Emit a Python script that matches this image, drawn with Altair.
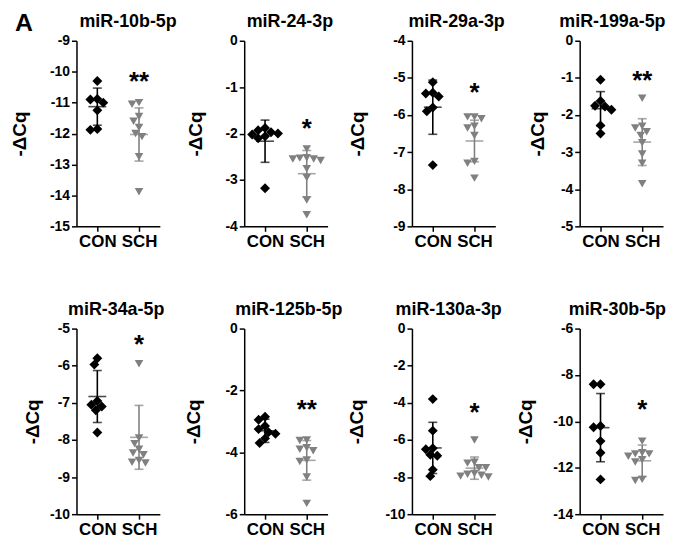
import altair as alt
import pandas as pd

titles = ["miR-10b-5p", "miR-24-3p", "miR-29a-3p", "miR-199a-5p",
          "miR-34a-5p", "miR-125b-5p", "miR-130a-3p", "miR-30b-5p"]
groups = ["CON", "SCH"]

con_vals = [
    [-10.3, -10.88, -10.9, -11.0, -11.25, -11.85, -11.88],
    [-1.88, -1.93, -1.97, -2.0, -2.02, -2.06, -2.1, -3.18],
    [-5.12, -5.4, -5.42, -5.5, -5.8, -5.9, -7.35],
    [-1.05, -1.62, -1.75, -1.77, -1.86, -2.28, -2.5],
    [-5.8, -5.97, -6.95, -7.05, -7.1, -7.2, -7.8],
    [-2.85, -2.95, -3.15, -3.25, -3.35, -3.4, -3.55, -3.7],
    [-3.8, -5.5, -6.45, -6.5, -6.8, -6.85, -7.6, -7.95],
    [-8.4, -8.4, -10.2, -10.25, -10.85, -11.35, -12.5],
]
sch_vals = [
    [-11.0, -11.05, -11.45, -11.6, -11.8, -12.0, -12.1, -12.75, -13.88],
    [-2.33, -2.52, -2.53, -2.55, -2.55, -2.58, -2.76, -2.95, -3.43, -3.75],
    [-6.05, -6.05, -6.1, -6.3, -6.35, -6.55, -7.25, -7.3, -7.7],
    [-1.55, -2.3, -2.35, -2.45, -2.55, -2.75, -3.05, -3.3, -3.85],
    [-5.95, -7.95, -8.1, -8.25, -8.35, -8.4, -8.55, -8.6, -8.62],
    [-3.6, -3.62, -3.85, -3.9, -3.95, -4.25, -4.3, -4.8, -5.65],
    [-6.0, -7.2, -7.25, -7.5, -7.5, -7.8, -7.85, -7.9, -7.95, -8.0],
    [-10.85, -11.35, -11.4, -11.4, -11.5, -11.65, -11.75, -12.5, -12.55],
]
con_mean = [-11.13, -2.165, -5.79, -1.83, -6.83, -3.305, -6.43, -10.27]
con_sd = [0.60, 0.455, 0.73, 0.46, 0.70, 0.375, 1.38, 1.47]
sch_mean = [-12.03, -2.865, -6.70, -2.73, -7.93, -4.26, -7.52, -11.70]
sch_sd = [0.86, 0.50, 0.56, 0.63, 0.86, 0.64, 0.60, 0.68]

stars = ["**", "*", "*", "**", "*", "**", "*", "*"]
star_y = [-10.18, -1.80, -5.27, -0.94, -5.31, -2.48, -4.29, -9.30]

y_min = [-15, -4, -9, -5, -10, -6, -10, -14]
y_max = [-9, 0, -4, 0, -5, 0, 0, -6]
y_step = [1, 1, 1, 1, 1, 2, 2, 2]

panel_label = "A"

# style
W, H = 84, 187
title_pad = [20, 19.5, 25, 13.5, 7, 22, 18.5, 17.5]
title_dx = [10, 4, 3, -9, -2, 3, -5, -4]
FONT = "Liberation Sans"
GRAY = "#808080"


def swarm(values, px_per_unit, diam=7.0):
    placed = []
    out = {}
    order = sorted(range(len(values)), key=lambda i: -values[i])
    cands = [0.0]
    for k in range(1, 60):
        cands += [-0.5 * k, 0.5 * k]
    for i in order:
        ypx = values[i] * px_per_unit
        chosen = cands[-1]
        for dx in cands:
            if all((dx - px) ** 2 + (ypx - py) ** 2 >= diam ** 2 for px, py in placed):
                chosen = dx
                break
        placed.append((chosen, ypx))
        out[i] = chosen
    return [out[i] for i in range(len(values))]


def panel(i):
    ppu = H / (y_max[i] - y_min[i])
    xppu = W / 2.0
    rows = []
    for g, vals in enumerate([con_vals[i], sch_vals[i]]):
        offs = swarm(vals, ppu)
        for v, o in zip(vals, offs):
            rows.append({"grp": groups[g], "xp": g + o / xppu, "v": v})
    pts = pd.DataFrame(rows)
    stats = pd.DataFrame({
        "grp": groups,
        "gx": [0, 1],
        "mean": [con_mean[i], sch_mean[i]],
        "lo": [con_mean[i] - con_sd[i], sch_mean[i] - sch_sd[i]],
        "hi": [con_mean[i] + con_sd[i], sch_mean[i] + sch_sd[i]],
    })
    star_df = pd.DataFrame({"gx": [1], "sy": [star_y[i]], "s": [stars[i]]})

    xscale = alt.Scale(domain=[-0.5, 1.5], nice=False, zero=False)
    yscale = alt.Scale(domain=[y_min[i], y_max[i]], nice=False, zero=False)
    xaxis = alt.Axis(title=None, values=[0, 1],
                     labelExpr="datum.value == 0 ? 'CON' : 'SCH'",
                     labelFontSize=17, labelFontWeight="bold", labelAngle=0,
                     labelFlush=False, labelOverlap=False, tickSize=5,
                     labelPadding=2, domainWidth=1.5, tickWidth=1.5, grid=False)
    yaxis = alt.Axis(title="-ΔCq",
                     values=list(range(y_min[i], y_max[i] + 1, y_step[i])),
                     labelExpr="'' + datum.value", titleFontSize=19,
                     titleFontWeight="bold", titlePadding=title_pad[i],
                     labelFontSize=14, labelFontWeight="bold", tickSize=5,
                     labelPadding=2, domainWidth=1.5, tickWidth=1.5, grid=False)
    color = alt.Color("grp:N", scale=alt.Scale(domain=groups, range=["#000000", GRAY]), legend=None)

    p = alt.Chart(pts).mark_point(filled=True, opacity=1).encode(
        x=alt.X("xp:Q", scale=xscale, axis=xaxis),
        y=alt.Y("v:Q", scale=yscale, axis=yaxis),
        shape=alt.Shape("grp:N", scale=alt.Scale(domain=groups, range=["diamond", "triangle-down"]), legend=None),
        size=alt.Size("grp:N", scale=alt.Scale(domain=groups, range=[100, 75]), legend=None),
        color=color,
    )
    base = alt.Chart(stats)
    rule = base.mark_rule(strokeWidth=1.6).encode(
        x=alt.X("gx:Q", scale=xscale, axis=xaxis),
        y=alt.Y("lo:Q", scale=yscale, axis=yaxis), y2="hi:Q", color=color)
    cap_lo = base.mark_tick(orient="horizontal", size=9, thickness=1.6).encode(
        x=alt.X("gx:Q", scale=xscale, axis=xaxis),
        y=alt.Y("lo:Q", scale=yscale, axis=yaxis), color=color)
    cap_hi = base.mark_tick(orient="horizontal", size=9, thickness=1.6).encode(
        x=alt.X("gx:Q", scale=xscale, axis=xaxis),
        y=alt.Y("hi:Q", scale=yscale, axis=yaxis), color=color)
    mean = base.mark_tick(orient="horizontal", size=18, thickness=1.6).encode(
        x=alt.X("gx:Q", scale=xscale, axis=xaxis),
        y=alt.Y("mean:Q", scale=yscale, axis=yaxis), color=color)
    star = alt.Chart(star_df).mark_text(fontSize=26, fontWeight="bold", font=FONT,
                                        baseline="alphabetic", dy=13, color="black").encode(
        x=alt.X("gx:Q", scale=xscale, axis=xaxis),
        y=alt.Y("sy:Q", scale=yscale, axis=yaxis), text="s:N")
    ttl = alt.Chart(alt.Data(values=[{"t": titles[i]}])).mark_text(
        fontSize=18, fontWeight="bold", font=FONT, align="center",
        baseline="alphabetic", color="black").encode(
        x=alt.value(W / 2 + title_dx[i]), y=alt.value(-14), text="t:N")
    layers = [p, rule, cap_lo, cap_hi, mean, star, ttl]
    if i == 0:
        lab = alt.Chart(alt.Data(values=[{"t": panel_label}])).mark_text(
            fontSize=25, fontWeight="bold", font=FONT, align="left",
            baseline="alphabetic", color="black").encode(
            x=alt.value(-62), y=alt.value(-10), text="t:N")
        layers.append(lab)
    return alt.layer(*layers).properties(width=W, height=H)


chart = alt.concat(*[panel(i) for i in range(8)], columns=4, bounds="flush",
                   spacing={"row": 103, "column": 85}).properties(
    padding={"left": 2, "top": 1, "right": 2, "bottom": 0},
).configure_axis(
    labelFont=FONT, titleFont=FONT, labelColor="black", titleColor="black",
    domainColor="black", tickColor="black"
).configure_view(stroke=None)

chart.save("out.html", embed_options={"renderer": "svg", "actions": False})
